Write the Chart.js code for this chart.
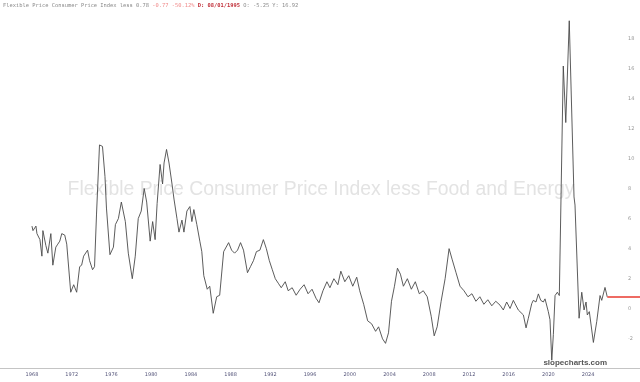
<!DOCTYPE html>
<html><head><meta charset="utf-8">
<script src="https://cdn.jsdelivr.net/npm/chart.js@4.4.1/dist/chart.umd.min.js"></script>
<style>html,body{margin:0;padding:0;background:#fff}#wrap{position:relative;width:640px;height:382px}</style>
</head><body><div id="wrap"><canvas id="c" width="640" height="382"></canvas></div>
<script>
// dates as decimal years, values in %
const dates = [
1968.0,1968.1,1968.4,1968.5,1968.8,1969.0,1969.1,1969.4,1969.6,1969.9,
1970.1,1970.4,1970.6,1970.8,1971.0,1971.3,1971.5,1971.9,1972.2,1972.5,
1972.8,1973.0,1973.2,1973.6,1973.8,1974.1,1974.3,1974.5,1974.8,1975.1,
1975.35,1975.5,1975.85,1976.2,1976.4,1976.7,1977.0,1977.4,1977.7,1978.1,
1978.4,1978.7,1979.0,1979.3,1979.55,1979.9,1980.15,1980.4,1980.6,1980.9,
1981.15,1981.3,1981.55,1981.8,1982.1,1982.3,1982.6,1982.8,1983.1,1983.3,
1983.6,1983.9,1984.1,1984.3,1984.6,1984.9,1985.1,1985.3,1985.65,1985.9,
1986.25,1986.6,1986.9,1987.3,1987.8,1988.1,1988.4,1988.7,1989.0,1989.3,
1989.7,1990.0,1990.3,1990.6,1990.95,
1991.3,1991.6,1991.9,1992.2,1992.5,1992.8,1993.1,1993.5,1993.8,1994.2,
1994.6,1995.0,1995.4,1995.8,1996.2,1996.6,1996.9,1997.3,1997.7,1998.0,
1998.4,1998.8,1999.1,1999.5,1999.9,2000.3,2000.7,2001.0,2001.4,2001.8,
2002.2,2002.6,2002.9,2003.3,2003.6,2003.9,2004.2,2004.5,2004.8,2005.1,
2005.4,2005.8,2006.2,2006.6,2007.0,2007.4,2007.8,2008.2,2008.5,2008.8,
2009.2,2009.6,2010.0,2010.3,2010.7,2011.1,2011.5,2011.9,2012.3,2012.7,
2013.1,2013.5,2013.9,2014.3,2014.7,
2015.13,2015.46,2015.8,2016.14,2016.47,2016.64,2016.97,2017.48,2017.75,2017.98,
2018.32,2018.48,2018.75,2018.99,2019.23,2019.49,2019.66,2019.99,2020.16,2020.34,
2020.5,2020.67,2020.9,2021.1,2021.5,2021.75,2022.1,2022.58,2022.68,2023.09,
2023.36,2023.59,2023.79,2023.92,2024.12,2024.53,2024.87,2025.2,2025.37,2025.7,
2025.93
];
const values = [
5.5,5.2,5.5,5.0,4.6,3.5,5.2,4.2,3.7,5.0,
2.9,4.1,4.3,4.5,5.0,4.9,4.3,1.1,1.6,1.1,
2.8,2.9,3.5,3.9,3.2,2.6,2.8,6.3,10.9,10.8,
8.8,6.7,3.6,4.1,5.6,6.0,7.1,5.8,3.7,2.0,
3.5,6.0,6.5,8.0,7.1,4.5,5.8,4.6,7.0,9.6,
8.3,9.7,10.6,9.7,8.3,7.3,6.0,5.1,5.9,5.1,
6.5,6.8,5.8,6.6,5.6,4.5,3.8,2.2,1.3,1.5,
-0.3,0.8,0.9,3.8,4.4,3.9,3.7,3.9,4.4,3.9,
2.4,2.8,3.2,3.8,3.9,
4.6,4.0,3.2,2.6,2.0,1.7,1.4,1.8,1.2,1.4,
0.9,1.3,1.6,1.0,1.3,0.7,0.4,1.2,1.8,1.4,
2.0,1.6,2.5,1.8,2.2,1.5,2.1,1.2,0.3,-0.8,
-1.0,-1.5,-1.2,-2.0,-2.3,-1.6,0.5,1.5,2.7,2.3,
1.5,2.0,1.3,1.8,1.0,1.2,0.8,-0.5,-1.8,-1.2,
0.5,2.0,4.0,3.3,2.4,1.5,1.2,0.8,1.0,0.5,
0.8,0.3,0.6,0.2,0.5,
0.24,-0.08,0.45,0.02,0.56,0.34,-0.08,-0.41,-1.27,-0.63,
0.34,0.56,0.45,0.99,0.56,0.45,0.66,-0.19,-0.73,-3.42,
-1.7,0.88,1.1,0.88,16.15,12.39,19.16,7.44,6.9,-0.63,
1.1,-0.08,0.45,-0.41,-0.19,-2.24,-0.84,0.88,0.56,1.42,
0.78
];
const xTicks = [1968,1972,1976,1980,1984,1988,1992,1996,2000,2004,2008,2012,2016,2020,2024];
const yTicks = [-2,0,2,4,6,8,10,12,14,16,18];
const seriesTitle = 'Flexible Price Consumer Price Index less Food and Energy';
const headerParts = [
  ['Flexible Price Consumer Price Index less 0.78 ', '#8a8a8a', 'normal'],
  ['-0.77 -50.12% ', '#f08a8a', 'normal'],
  ['D: 08/01/1995 ', '#c0303a', 'bold'],
  ['O: -5.25 Y: 16.92', '#8a8a8a', 'normal']
];
const brand = 'slopecharts.com';

const points = dates.map((d, i) => ({x: d, y: values[i]}));

const overlay = {
  id: 'overlay',
  beforeDatasetsDraw(chart) {
    const ctx = chart.ctx;
    ctx.save();
    let size = 24;
    ctx.font = size + 'px "Liberation Sans", Arial, sans-serif';
    const w = ctx.measureText(seriesTitle).width;
    size = size * 507 / w;
    ctx.font = size + 'px "Liberation Sans", Arial, sans-serif';
    ctx.fillStyle = 'rgba(200,200,200,0.5)';
    ctx.textAlign = 'center';
    ctx.textBaseline = 'middle';
    ctx.fillText(seriesTitle, 321, 190);
    ctx.restore();
  },
  afterDraw(chart) {
    const ctx = chart.ctx;
    const xs = chart.scales.x, ys = chart.scales.y;
    ctx.save();
    // axis line across full width
    ctx.strokeStyle = '#c4c4c4';
    ctx.lineWidth = 1;
    ctx.beginPath();
    ctx.moveTo(0, chart.chartArea.bottom + 0.5);
    ctx.lineTo(chart.width, chart.chartArea.bottom + 0.5);
    ctx.stroke();
    // last value marker
    const lastX = xs.getPixelForValue(dates[dates.length - 1]);
    const lastY = ys.getPixelForValue(values[values.length - 1]);
    ctx.strokeStyle = '#ee6b63';
    ctx.lineWidth = 2;
    ctx.beginPath();
    ctx.moveTo(lastX, lastY);
    ctx.lineTo(chart.width, lastY);
    ctx.stroke();
    // header
    let x = 3;
    ctx.textBaseline = 'middle';
    ctx.textAlign = 'left';
    headerParts.forEach(p => {
      ctx.font = p[2] + ' 5.4px "DejaVu Sans Mono", monospace';
      ctx.fillStyle = p[1];
      ctx.fillText(p[0], x, 6);
      x += ctx.measureText(p[0]).width;
    });
    // brand
    ctx.font = 'bold 8px "Liberation Sans", Arial, sans-serif';
    ctx.fillStyle = '#555';
    ctx.textAlign = 'right';
    ctx.textBaseline = 'middle';
    ctx.fillText(brand, 607, 363);
    ctx.restore();
  }
};

new Chart(document.getElementById('c'), {
  type: 'line',
  data: { datasets: [{ data: points, borderColor: '#4a4a4a', borderWidth: 0.9, pointRadius: 0, tension: 0, fill: false }] },
  options: {
    responsive: false, animation: false, devicePixelRatio: 1,
    layout: { padding: 0 },
    plugins: { legend: { display: false }, tooltip: { enabled: false } },
    scales: {
      x: {
        type: 'linear', min: 1964.78, max: 2027.21, position: 'bottom',
        grid: { display: false, drawTicks: false }, border: { display: false },
        afterBuildTicks: s => { s.ticks = xTicks.map(v => ({ value: v })); },
        afterFit: s => { s.height = 14; },
        ticks: { font: { size: 5, family: 'DejaVu Sans' }, color: '#55557a', padding: 4, maxRotation: 0, autoSkip: false, callback: v => String(v) }
      },
      y: {
        position: 'right', min: -3.94, max: 19.81,
        grid: { display: false, drawTicks: false }, border: { display: false },
        afterBuildTicks: s => { s.ticks = yTicks.map(v => ({ value: v })); },
        afterFit: s => { s.width = 20; },
        ticks: { font: { size: 5, family: 'DejaVu Sans' }, color: '#999', padding: 8, callback: v => String(v) }
      }
    }
  },
  plugins: [overlay]
});
</script></body></html>
